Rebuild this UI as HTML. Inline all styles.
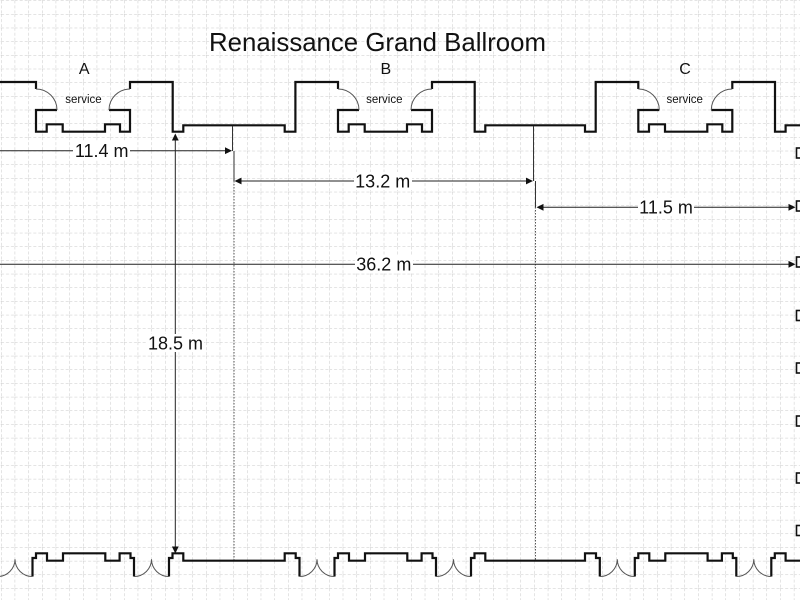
<!DOCTYPE html>
<html>
<head>
<meta charset="utf-8">
<style>
html,body{margin:0;padding:0;background:#fff;}
svg{display:block;}
text{font-family:"Liberation Sans",Arial,sans-serif;fill:#111;}
</style>
</head>
<body>
<svg width="800" height="600" viewBox="0 0 800 600" xmlns="http://www.w3.org/2000/svg">
<defs>
<pattern id="g" patternUnits="userSpaceOnUse" x="1" y="0.4" width="13.67" height="13.67">
<line x1="0" y1="0" x2="0" y2="13.67" stroke="#c8c8c8" stroke-width="1" stroke-dasharray="3 2"/>
<line x1="0" y1="0" x2="13.67" y2="0" stroke="#c8c8c8" stroke-width="1" stroke-dasharray="3 2"/>
</pattern>
</defs>
<rect x="0" y="0" width="800" height="600" fill="#fff"/>
<rect x="0" y="0" width="800" height="600" fill="url(#g)"/>

<!-- Title -->
<text x="377.5" y="51" font-size="25.8" text-anchor="middle">Renaissance Grand Ballroom</text>

<!-- Section labels -->
<text x="84.2" y="74" font-size="16" text-anchor="middle">A</text>
<text x="385.8" y="74" font-size="16" text-anchor="middle">B</text>
<text x="685" y="74" font-size="16" text-anchor="middle">C</text>
<text x="83.5" y="103" font-size="11.5" text-anchor="middle">service</text>
<text x="384.3" y="103" font-size="11.5" text-anchor="middle">service</text>
<text x="684.7" y="103" font-size="11.5" text-anchor="middle">service</text>

<!-- Top wall -->
<g fill="none" stroke="#111" stroke-width="2.2" stroke-linejoin="miter">
<path d="M0 82 H36 V89"/>
<path d="M57 110 H36 V131.7 H46.7 V124.3 H62.7 V131.7 H105 V124.3 H120 V131.7 H130 V110 H109"/>
<path d="M130 89 V82 H172.7 V131.7 H183.3 V125.3 H284.7 V131.7 H295.4 V82 H338 V89"/>
<path d="M359 110 H338 V131.7 H348.7 V124.3 H364.7 V131.7 H407 V124.3 H422 V131.7 H432 V110 H411"/>
<path d="M432 89 V82 H474.7 V131.7 H485.3 V125.3 H585 V131.7 H595.7 V82 H638.3 V89"/>
<path d="M659.3 110 H638.3 V131.7 H649 V124.3 H665 V131.7 H707.3 V124.3 H722.3 V131.7 H732.3 V110 H711.3"/>
<path d="M732.3 89 V82 H775 V131.7 H785.6 V125.3 H800"/>
</g>
<!-- Top door arcs -->
<g fill="none" stroke="#555" stroke-width="1">
<path d="M36 89 A21 21 0 0 1 57 110"/>
<path d="M109 110 A21 21 0 0 1 130 89"/>
<path d="M338 89 A21 21 0 0 1 359 110"/>
<path d="M411 110 A21 21 0 0 1 432 89"/>
<path d="M638.3 89 A21 21 0 0 1 659.3 110"/>
<path d="M711.3 110 A21 21 0 0 1 732.3 89"/>
</g>

<!-- Bottom wall -->
<g fill="none" stroke="#111" stroke-width="2.2" stroke-linejoin="miter">
<path d="M32.5 576.5 V558 H36 V553.3 H47 V560.7 H63 V553.3 H105.3 V560.7 H119.6 V553.3 H130.5 V558 H134 V576.5"/>
<path d="M169 576.5 V558 H172.5 V553.3 H183.3 V560.7 H284.7 V553.3 H295.7 V558 H299.5 V576.5"/>
<path d="M334.5 576.5 V558 H338 V553.3 H349 V560.7 H365 V553.3 H407.3 V560.7 H421.6 V553.3 H432.5 V558 H436 V576.5"/>
<path d="M471 576.5 V558 H474.5 V553.3 H485.3 V560.7 H585 V553.3 H596 V558 H599.8 V576.5"/>
<path d="M634.8 576.5 V558 H638.3 V553.3 H649.3 V560.7 H665.3 V553.3 H707.6 V560.7 H721.9 V553.3 H732.8 V558 H736.3 V576.5"/>
<path d="M771.3 576.5 V558 H774.8 V553.3 H785.6 V560.7 H800"/>
</g>
<!-- Bottom double door arcs -->
<g fill="none" stroke="#555" stroke-width="1">
<path d="M-2.5 576.5 A17.5 17.2 0 0 0 15 559.3 A17.5 17.2 0 0 0 32.5 576.5"/>
<path d="M134 576.5 A17.5 17.2 0 0 0 151.5 559.3 A17.5 17.2 0 0 0 169 576.5"/>
<path d="M299.5 576.5 A17.5 17.2 0 0 0 317 559.3 A17.5 17.2 0 0 0 334.5 576.5"/>
<path d="M436 576.5 A17.5 17.2 0 0 0 453.5 559.3 A17.5 17.2 0 0 0 471 576.5"/>
<path d="M599.8 576.5 A17.5 17.2 0 0 0 617.3 559.3 A17.5 17.2 0 0 0 634.8 576.5"/>
<path d="M736.3 576.5 A17.5 17.2 0 0 0 753.8 559.3 A17.5 17.2 0 0 0 771.3 576.5"/>
</g>

<!-- Extension lines -->
<g fill="none" stroke="#333" stroke-width="1">
<line x1="232.5" y1="126" x2="232.5" y2="151"/>
<line x1="234" y1="151" x2="234" y2="181"/>
<line x1="533.5" y1="126" x2="533.5" y2="181"/>
<line x1="535.5" y1="181" x2="535.5" y2="207"/>
</g>
<g fill="none" stroke="#555" stroke-width="1" stroke-dasharray="1.5 1.5">
<line x1="234" y1="181" x2="234" y2="560"/>
<line x1="535.5" y1="207" x2="535.5" y2="560"/>
</g>

<!-- Dimension lines -->
<g stroke="#222" stroke-width="1" fill="none">
<line x1="0" y1="150.7" x2="226" y2="150.7"/>
<line x1="240" y1="181" x2="527" y2="181"/>
<line x1="543" y1="207.3" x2="789" y2="207.3"/>
<line x1="0" y1="264.3" x2="789" y2="264.3"/>
<line x1="175.3" y1="140" x2="175.3" y2="547"/>
</g>
<g fill="#111" stroke="none">
<polygon points="232,150.7 225,147.3 225,154.1"/>
<polygon points="234.5,181 241.5,177.6 241.5,184.4"/>
<polygon points="533,181 526,177.6 526,184.4"/>
<polygon points="536.5,207.3 543.5,203.9 543.5,210.7"/>
<polygon points="795.5,207.3 788.5,203.9 788.5,210.7"/>
<polygon points="795.5,264.3 788.5,260.9 788.5,267.7"/>
<polygon points="175.3,133.5 171.9,140.5 178.7,140.5"/>
<polygon points="175.3,553.5 171.9,546.5 178.7,546.5"/>
</g>

<!-- Dimension labels -->
<g fill="#fff">
<rect x="73" y="142" width="57" height="18"/>
<rect x="354" y="172" width="58" height="18"/>
<rect x="638" y="198" width="56" height="18"/>
<rect x="355" y="255" width="58" height="18"/>
<rect x="147" y="334" width="57" height="18"/>
</g>
<g font-size="18" text-anchor="middle">
<text x="101.7" y="157">11.4 m</text>
<text x="382.7" y="187.5">13.2 m</text>
<text x="666" y="213.5">11.5 m</text>
<text x="383.8" y="270.5">36.2 m</text>
<text x="175.5" y="349.5">18.5 m</text>
</g>

<!-- Right edge small squares -->
<g fill="#fff" stroke="#111" stroke-width="1.6">
<rect x="796.5" y="148" width="10" height="10"/>
<rect x="796.5" y="201" width="10" height="10"/>
<rect x="796.5" y="257" width="10" height="10"/>
<rect x="796.5" y="310.5" width="10" height="10"/>
<rect x="796.5" y="363" width="10" height="10"/>
<rect x="796.5" y="416" width="10" height="10"/>
<rect x="796.5" y="473" width="10" height="10"/>
<rect x="796.5" y="525.5" width="10" height="10"/>
</g>
</svg>
</body>
</html>
